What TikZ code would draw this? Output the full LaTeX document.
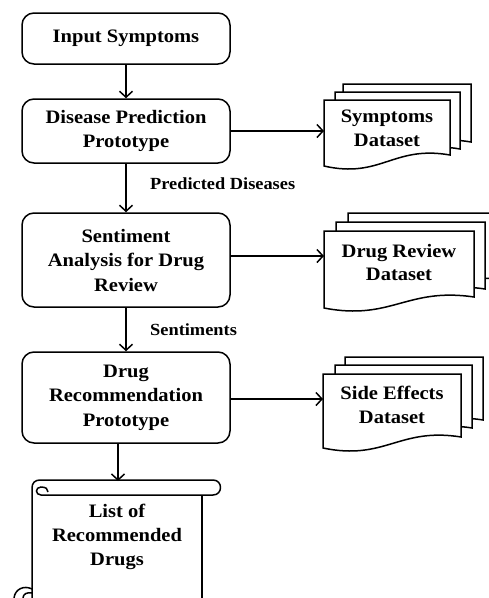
\documentclass[tikz,border=0pt]{standalone}
\usepackage{fontspec}
\setmainfont[FakeStretch=1.08]{Liberation Serif}
\usetikzlibrary{arrows.meta,calc}
\newcommand\docshape[4]{%
  \filldraw[docline] (#1,#2) -- (#3,#2) -- (#3,#4)
    .. controls ({#3-0.45*(#3-#1)},{#4-10}) and ({#1+0.45*(#3-#1)},{#4+24}) .. (#1,{#4+11}) -- cycle;}
\tikzset{
  proc/.style={draw, line width=1.5pt, rounded corners=12pt, align=center,
    minimum width=208pt, inner sep=0pt, font=\fontsize{19}{24.5}\selectfont\bfseries},
  dtext/.style={align=center, inner sep=0pt, font=\fontsize{19}{23.5}\selectfont\bfseries},
  lbl/.style={anchor=west, inner sep=0pt, font=\fontsize{17}{20}\selectfont\bfseries},
  docline/.style={draw=black, fill=white, line width=1.5pt, line join=miter},
  arr/.style={line width=1.5pt, -{Straight Barb[length=6pt,width=13pt,line width=1.5pt]}},
  plain/.style={line width=1.5pt}
}
\begin{document}
\begin{tikzpicture}[x=1pt,y=-1pt]
\useasboundingbox (0,0) rectangle (489,598);
\clip (0,0) rectangle (489,598);
\fill[white] (0,0) rectangle (489,598);

% main process boxes
\node[proc, minimum height=51pt] (b1) at (126,38.5) {Input Symptoms};
\node[proc, minimum height=64pt] (b2) at (126,131) {Disease Prediction\\Prototype};
\node[proc, minimum height=94pt] (b3) at (126,260) {Sentiment\\Analysis for Drug\\Review};
\node[proc, minimum height=91pt] (b4) at (126,397.5) {Drug\\Recommendation\\Prototype};

% vertical arrows
\draw[arr] (b1.south) -- (b2.north);
\draw[arr] (b2.south) -- (b3.north);
\draw[arr] (b3.south) -- (b4.north);

\node[lbl] (lpd) at (150,184) {Predicted Diseases};
\node[lbl] (lse) at (150,330) {Sentiments};

% Symptoms dataset
\docshape{343}{84}{471}{142}
\docshape{335}{92}{460}{149}
\docshape{324}{100}{450}{155}
\node[dtext] (symt) at (387,128.5) {Symptoms\\Dataset};
\coordinate (symw) at (324,131);

% Drug review dataset
\docshape{348}{213}{505}{280}
\docshape{336}{222}{485}{289}
\docshape{324}{231}{474}{297}
\node[dtext] (drt) at (399,262.5) {Drug Review\\Dataset};
\coordinate (drw) at (324,256);

% Side effects dataset
\docshape{345}{357}{483}{420}
\docshape{335}{365}{472}{428}
\docshape{323}{374}{461}{437}
\node[dtext] (set) at (392,405) {Side Effects\\Dataset};
\coordinate (sew) at (323,399);

% horizontal arrows
\draw[arr] (b2.east |- symw) -- (symw);
\draw[arr] (b3.east |- drw) -- (drw);
\draw[arr] (b4.east |- sew) -- (sew);

% scroll
\coordinate (scrolltop) at (118,481);
\draw[plain, line join=round]
  (40,480) -- (213,480) .. controls (223,480) and (223,495) .. (213,495) -- (48,495);
\draw[plain] (202,495) -- (202,605);
\draw[plain] (40,480) .. controls (35,480) and (32,483) .. (32,488) -- (32,605);
\draw[plain] (48,495) -- (41,495) .. controls (35,495) and (35,487) .. (41,487)
  .. controls (46,487) and (48,489) .. (48,492);
\draw[plain] (32,589) .. controls (24,585) and (15,589) .. (14,598);
\draw[plain] (23,598) .. controls (23,594) and (27,592) .. (32,593);
\node[dtext, font=\fontsize{19}{24}\selectfont\bfseries] (list) at (117,537) {List of\\Recommended\\Drugs};
\draw[arr] (b4.south -| scrolltop) -- (scrolltop);
\end{tikzpicture}
\end{document}
